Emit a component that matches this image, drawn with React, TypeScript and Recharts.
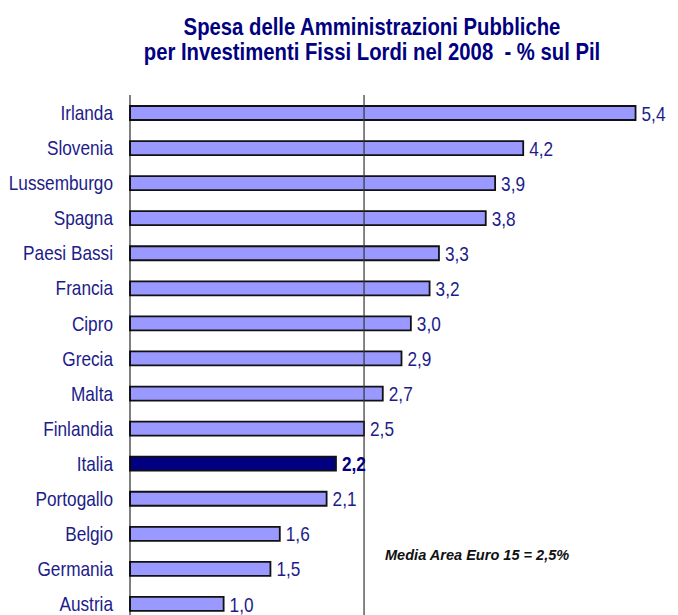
import { BarChart, Bar, XAxis, YAxis, ReferenceLine, Cell, LabelList } from 'recharts';

const countries = [
  'Irlanda', 'Slovenia', 'Lussemburgo', 'Spagna', 'Paesi Bassi', 'Francia', 'Cipro', 'Grecia',
  'Malta', 'Finlandia', 'Italia', 'Portogallo', 'Belgio', 'Germania', 'Austria',
];
const values = [5.4, 4.2, 3.9, 3.8, 3.3, 3.2, 3.0, 2.9, 2.7, 2.5, 2.2, 2.1, 1.6, 1.5, 1.0];
const highlight = 'Italia';
const euroAverage = 2.5;

const data = countries.map((name, i) => ({ name, value: values[i] }));

// Arial Narrow look-alike: Liberation Sans squeezed horizontally
const font = "'Liberation Sans', Arial, sans-serif";
const narrow = 0.82;
const navy = '#1c1c8a';

const CountryTick = (props: any) => {
  const { x, y, payload } = props;
  return (
    <g transform={`translate(${x},${y})`}>
      <text transform={`scale(${narrow},1)`} textAnchor="end" dy="0.36em" fill={navy} fontFamily={font} fontSize={21}>
        {payload.value}
      </text>
    </g>
  );
};

const ValueLabel = (props: any) => {
  const { x, y, width, height, value, index } = props;
  const bold = countries[index] === highlight;
  return (
    <g transform={`translate(${x + width + 6},${y + height / 2})`}>
      <text
        transform={`scale(${narrow},1)`}
        dy="0.36em"
        fill={bold ? '#000080' : navy}
        fontFamily={font}
        fontSize={21}
        fontWeight={bold ? 'bold' : 'normal'}
      >
        {Number(value).toFixed(1).replace('.', ',')}
      </text>
    </g>
  );
};

export default function App() {
  return (
    <div style={{ position: 'absolute', left: 0, top: 0, width: 678, height: 615, overflow: 'hidden', background: '#fff' }}>
      <div
        style={{
          position: 'absolute', left: 72, width: 600, top: 14, textAlign: 'center', whiteSpace: 'nowrap',
          fontFamily: font, fontWeight: 'bold', fontSize: 24, lineHeight: '25px', color: '#000080',
          transform: 'scaleX(0.845)', transformOrigin: '300px 0',
        }}
      >
        Spesa delle Amministrazioni Pubbliche
        <br />
        per Investimenti Fissi Lordi nel 2008&nbsp; - % sul Pil
      </div>
      <BarChart
        width={678}
        height={621}
        data={data}
        layout="vertical"
        margin={{ top: 95, right: 5, left: 0, bottom: 0 }}
        barSize={14}
      >
        <XAxis type="number" orientation="top" domain={[0, 5.8]} tick={false} tickLine={false} height={0} axisLine={{ stroke: '#000', strokeWidth: 1 }} />
        <YAxis
          type="category"
          dataKey="name"
          width={130}
          tickLine={false}
          axisLine={{ stroke: '#000', strokeWidth: 1 }}
          tickMargin={11}
          interval={0}
          tick={<CountryTick />}
        />
        <Bar dataKey="value" stroke="#111" strokeWidth={1.8} isAnimationActive={false}>
          {data.map((d) => (
            <Cell key={d.name} fill={d.name === highlight ? '#000080' : '#9999ff'} />
          ))}
          <LabelList dataKey="value" content={ValueLabel} />
        </Bar>
        <ReferenceLine x={euroAverage} stroke="#333" strokeWidth={1.2} ifOverflow="extendDomain" />
      </BarChart>
      <div
        style={{
          position: 'absolute', left: 385, top: 545, fontFamily: font, fontSize: 15, lineHeight: '20px',
          fontStyle: 'italic', fontWeight: 'bold', color: '#111', whiteSpace: 'nowrap',
          transform: 'scaleX(0.97)', transformOrigin: '0 0',
        }}
      >
        Media Area Euro 15 = 2,5%
      </div>
    </div>
  );
}
